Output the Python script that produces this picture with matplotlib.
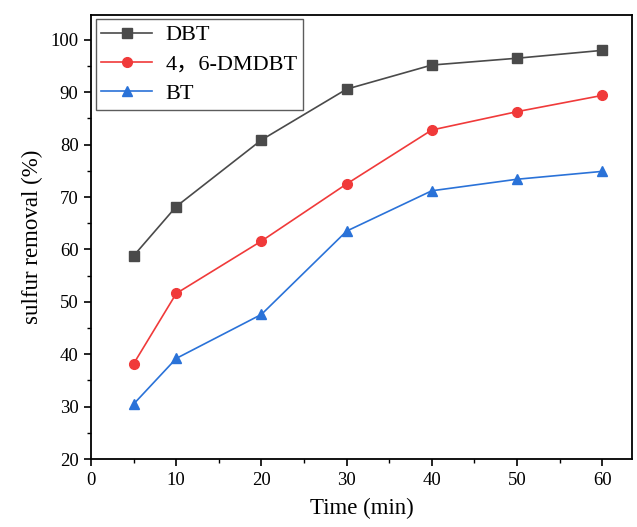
import matplotlib.pyplot as plt
from matplotlib.ticker import MultipleLocator

plt.rcParams['font.family'] = ['Liberation Serif', 'DejaVu Serif']

# Reaction time (min) and sulfur removal (%) for each compound
time = [5, 10, 20, 30, 40, 50, 60]
dbt = [58.8, 68.2, 80.9, 90.6, 95.2, 96.5, 98.0]
dmdbt = [38.2, 51.6, 61.6, 72.5, 82.8, 86.3, 89.4]
bt = [30.5, 39.2, 47.6, 63.5, 71.2, 73.4, 74.9]

fig = plt.figure(figsize=(6.37, 5.27), dpi=100)
ax = fig.add_axes([0.143, 0.129, 0.849, 0.843])

ax.plot(time, dbt, color='#4a4a4a', marker='s', markersize=6.5, lw=1.2, label='DBT')
ax.plot(time, dmdbt, color='#f03a3a', marker='o', markersize=7, lw=1.2, label='4，6-DMDBT')
ax.plot(time, bt, color='#2a72d8', marker='^', markersize=7.5, lw=1.2, label='BT')

ax.set_xlim(0, 63.5)
ax.set_ylim(20, 104.8)
ax.xaxis.set_major_locator(MultipleLocator(10))
ax.xaxis.set_minor_locator(MultipleLocator(5))
ax.yaxis.set_major_locator(MultipleLocator(10))
ax.yaxis.set_minor_locator(MultipleLocator(5))
ax.tick_params(which='major', direction='out', length=5, width=1.2, labelsize=13.5, pad=4)
ax.tick_params(which='minor', direction='out', length=3, width=1.0)
for s in ax.spines.values():
    s.set_linewidth(1.3)

ax.set_xlabel('Time (min)', fontsize=16.5, labelpad=7)
ax.set_ylabel('sulfur removal (%)', fontsize=16.5, labelpad=5)

leg = ax.legend(loc='upper left', frameon=True, fancybox=False,
                edgecolor='#333333', borderpad=0.25, labelspacing=0.4,
                handlelength=2.3, handletextpad=0.6, borderaxespad=0.2,
                prop={'family': ['Liberation Serif', 'Noto Sans CJK SC'], 'size': 16})
leg.get_frame().set_linewidth(1.0)

fig.savefig('out.png', dpi=100)
